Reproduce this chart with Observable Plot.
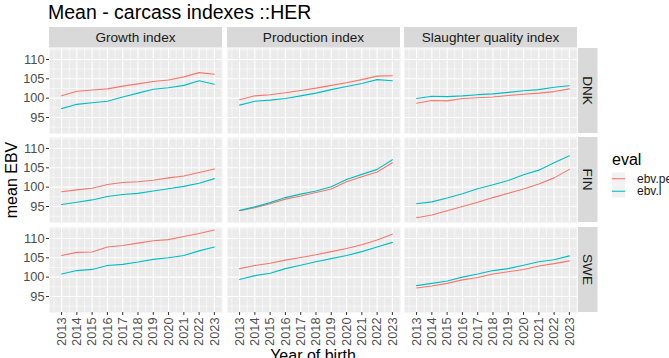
<!DOCTYPE html>
<html><head><meta charset="utf-8">
<script src="https://cdn.jsdelivr.net/npm/d3@7"></script>
<script src="https://cdn.jsdelivr.net/npm/@observablehq/plot@0.6"></script>
<style>
html,body{margin:0;padding:0;background:#fff;overflow:hidden;}
#root{position:relative;width:669px;height:358px;overflow:hidden;font-family:"Liberation Sans",Arial,sans-serif;}
.panel{position:absolute;}
#overlay{position:absolute;left:0;top:0;}
</style></head><body><div id="root"></div>
<script>
// ---- data ----
const years = [2013, 2014, 2015, 2016, 2017, 2018, 2019, 2020, 2021, 2022, 2023];
const indexes = ["Growth index", "Production index", "Slaughter quality index"];
const countries = ["DNK", "FIN", "SWE"];
const evals = ["ebv.pe", "ebv.l"];
const evalColors = ["#F8766D", "#00BFC4"];
const yTicks = [95, 100, 105, 110];
const yMinorTicks = [92.5, 97.5, 102.5, 107.5, 112.5];
const xMinorTicks = [2012.5, 2013.5, 2014.5, 2015.5, 2016.5, 2017.5, 2018.5, 2019.5, 2020.5, 2021.5, 2022.5, 2023.5];

const growth_DNK_pe     = [100.6, 101.8, 102.1, 102.4, 103.1, 103.7, 104.3, 104.7, 105.5, 106.6, 106.2];
const growth_DNK_l      = [97.3, 98.4, 98.8, 99.2, 100.3, 101.3, 102.3, 102.7, 103.3, 104.5, 103.6];
const production_DNK_pe = [99.6, 100.6, 100.9, 101.4, 102.0, 102.6, 103.3, 104.0, 104.8, 105.7, 105.8];
const production_DNK_l  = [98.2, 99.2, 99.5, 99.9, 100.6, 101.3, 102.2, 103.0, 103.8, 104.8, 104.5];
const slaughter_DNK_pe  = [98.7, 99.4, 99.3, 99.9, 100.1, 100.3, 100.7, 101.0, 101.3, 101.7, 102.4];
const slaughter_DNK_l   = [99.9, 100.5, 100.4, 100.6, 100.9, 101.1, 101.5, 101.9, 102.2, 102.8, 103.2];

const growth_FIN_pe     = [98.8, 99.3, 99.7, 100.7, 101.2, 101.4, 101.8, 102.4, 102.9, 103.8, 104.7];
const growth_FIN_l      = [95.5, 96.1, 96.7, 97.6, 98.1, 98.4, 99.0, 99.6, 100.2, 101.0, 102.2];
const production_FIN_pe = [93.9, 94.7, 95.7, 96.9, 97.7, 98.6, 99.5, 101.4, 102.7, 103.9, 106.3];
const production_FIN_l  = [94.0, 94.9, 96.0, 97.3, 98.2, 99.0, 100.1, 102.0, 103.3, 104.6, 107.1];
const slaughter_FIN_pe  = [92.1, 92.8, 93.9, 95.0, 96.1, 97.3, 98.4, 99.5, 100.8, 102.4, 104.6];
const slaughter_FIN_l   = [95.7, 96.2, 97.2, 98.3, 99.6, 100.6, 101.7, 103.2, 104.4, 106.3, 108.1];

const growth_SWE_pe     = [105.6, 106.4, 106.5, 107.8, 108.2, 108.8, 109.4, 109.7, 110.5, 111.3, 112.2];
const growth_SWE_l      = [100.8, 101.7, 102.0, 103.0, 103.3, 103.9, 104.6, 105.0, 105.6, 106.8, 107.8];
const production_SWE_pe = [102.2, 103.0, 103.6, 104.4, 105.1, 105.8, 106.6, 107.4, 108.4, 109.6, 111.1];
const production_SWE_l  = [99.4, 100.4, 101.0, 102.2, 103.1, 104.0, 104.8, 105.6, 106.6, 107.8, 109.0];
const slaughter_SWE_pe  = [97.2, 97.7, 98.4, 99.3, 99.9, 100.8, 101.4, 102.0, 102.9, 103.5, 104.2];
const slaughter_SWE_l   = [97.8, 98.4, 99.0, 100.0, 100.8, 101.7, 102.2, 103.1, 104.0, 104.5, 105.5];

const seriesTable = [
  [indexes[0], "DNK", growth_DNK_pe, growth_DNK_l],
  [indexes[1], "DNK", production_DNK_pe, production_DNK_l],
  [indexes[2], "DNK", slaughter_DNK_pe, slaughter_DNK_l],
  [indexes[0], "FIN", growth_FIN_pe, growth_FIN_l],
  [indexes[1], "FIN", production_FIN_pe, production_FIN_l],
  [indexes[2], "FIN", slaughter_FIN_pe, slaughter_FIN_l],
  [indexes[0], "SWE", growth_SWE_pe, growth_SWE_l],
  [indexes[1], "SWE", production_SWE_pe, production_SWE_l],
  [indexes[2], "SWE", slaughter_SWE_pe, slaughter_SWE_l]
];
const rows = [];
for (const [index, country, pe, l] of seriesTable) {
  [pe, l].forEach((vals, k) => vals.forEach((v, t) => rows.push({index, country, eval: evals[k], year: years[t], value: v})));
}

// ---- layout ----
const root = document.getElementById("root");
const FONT = "Liberation Sans, Arial, sans-serif";
const colLeft = [49, 227, 404];
const rowTop = [48, 137, 227];
const PW = 173, PH = 85;
const xDomain = [2012.21, 2023.53];
const yDomain = [90.86, 112.84];

for (let ci = 0; ci < 3; ci++) {
  for (let ri = 0; ri < 3; ri++) {
    const ml = ci === 0 ? 49 : 0;
    const mb = ri === 2 ? 48 : 0;
    const data = rows.filter(d => d.index === indexes[ci] && d.country === countries[ri]);
    const marks = [
      Plot.frame({fill: "#EBEBEB", stroke: "none"}),
      Plot.gridY(yMinorTicks, {stroke: "#fff", strokeOpacity: 1, strokeWidth: 0.55}),
      Plot.gridX(xMinorTicks, {stroke: "#fff", strokeOpacity: 1, strokeWidth: 0.55}),
      Plot.gridY(yTicks, {stroke: "#fff", strokeOpacity: 1, strokeWidth: 1.1}),
      Plot.gridX(years, {stroke: "#fff", strokeOpacity: 1, strokeWidth: 1.1}),
      Plot.line(data, {x: "year", y: "value", z: "eval", stroke: "eval", strokeWidth: 1.1})
    ];
    if (ci === 0) marks.push(Plot.axisY(yTicks, {tickSize: 3, tickPadding: 2, fontSize: 12.8, fill: "#4D4D4D", stroke: "#333333", label: null}));
    if (ri === 2) marks.push(Plot.axisX(years, {tickSize: 3, tickPadding: 2, tickRotate: -90, fontSize: 12.8, fill: "#4D4D4D", stroke: "#333333", label: null, tickFormat: d => String(d)}));
    const svg = Plot.plot({
      width: PW + ml, height: PH + mb,
      marginLeft: ml, marginRight: 0, marginTop: 0, marginBottom: mb,
      x: {domain: xDomain, axis: null},
      y: {domain: yDomain, axis: null},
      color: {domain: evals, range: evalColors},
      style: {fontFamily: FONT, background: "transparent", overflow: "visible"},
      marks
    });
    const div = document.createElement("div");
    div.className = "panel";
    div.style.left = (colLeft[ci] - ml) + "px";
    div.style.top = rowTop[ri] + "px";
    div.style.width = (PW + ml) + "px";
    div.appendChild(svg);
    root.appendChild(div);
  }
}

// ---- overlay: titles, strips, legend ----
const NS = "http://www.w3.org/2000/svg";
const ov = document.createElementNS(NS, "svg");
ov.setAttribute("id", "overlay");
ov.setAttribute("width", 669);
ov.setAttribute("height", 358);
ov.style.fontFamily = FONT;
root.appendChild(ov);
function el(tag, attrs, text) {
  const e = document.createElementNS(NS, tag);
  for (const k in attrs) e.setAttribute(k, attrs[k]);
  if (text != null) e.textContent = text;
  ov.appendChild(e);
  return e;
}
el("text", {x: 48, y: 18.5, "font-size": 19.5, fill: "#000"}, "Mean - carcass indexes ::HER");
el("text", {transform: "translate(17,180) rotate(-90)", "text-anchor": "middle", "font-size": 16, fill: "#000"}, "mean EBV");
el("text", {x: 313, y: 361, "text-anchor": "middle", "font-size": 16, fill: "#000"}, "Year of birth");
indexes.forEach((name, ci) => {
  el("rect", {x: colLeft[ci], y: 27, width: PW, height: 20.5, fill: "#D9D9D9"});
  el("text", {x: colLeft[ci] + PW / 2, y: 42, "text-anchor": "middle", "font-size": 13.6, fill: "#1A1A1A"}, name);
});
countries.forEach((name, ri) => {
  el("rect", {x: 578, y: rowTop[ri], width: 19.5, height: PH, fill: "#D9D9D9"});
  el("text", {transform: `translate(582.5,${rowTop[ri] + PH / 2}) rotate(90)`, "text-anchor": "middle", "font-size": 13.6, fill: "#1A1A1A"}, name);
});
el("text", {x: 612, y: 165, "font-size": 16, fill: "#000"}, "eval");
evals.forEach((name, k) => {
  const y0 = 172.5 + k * 12.5;
  el("rect", {x: 612, y: y0, width: 13, height: 12.5, fill: "#F2F2F2"});
  el("line", {x1: 612, x2: 625, y1: y0 + 6.25, y2: y0 + 6.25, stroke: evalColors[k], "stroke-width": 1.1});
  el("text", {x: 637, y: y0 + 10.3, "font-size": 12, fill: "#1A1A1A"}, name);
});
</script></body></html>
